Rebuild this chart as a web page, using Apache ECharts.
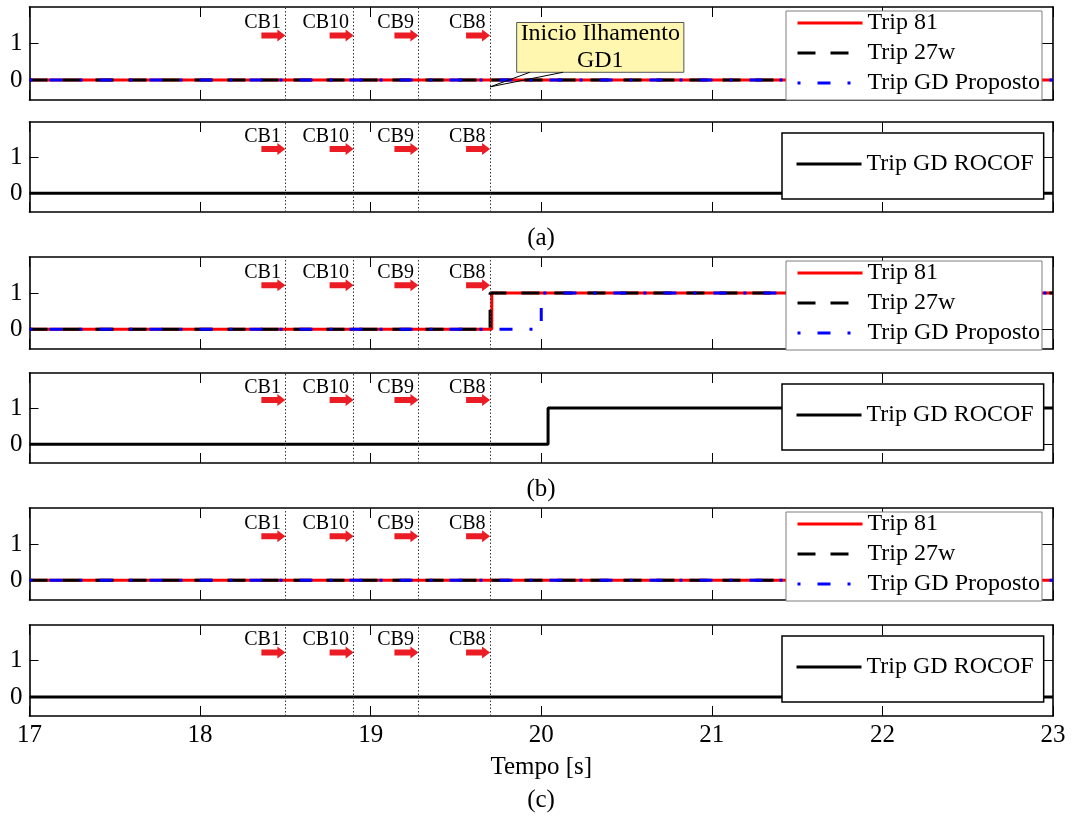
<!DOCTYPE html>
<html><head><meta charset="utf-8">
<script src="https://cdn.jsdelivr.net/npm/echarts@6/dist/echarts.min.js"></script>
<style>html,body{margin:0;padding:0;background:#fff}#c{width:1075px;height:817px}</style>
</head><body><div id="c"></div>
<script>
// ---------------- data ----------------
const xMin = 17, xMax = 23, xStep = 1;
const yTicks = [0, 1];
const cbNames = ['CB1', 'CB10', 'CB9', 'CB8'];
const cbTimes = [18.5, 18.9, 19.28, 19.7];
const arrowLevel = 1.22;
const cbLabelLevel = 1.57;

const trip81_a  = [[17, 0], [23, 0]];
const trip27w_a = [[17, 0], [23, 0]];
const tripGD_a  = [[17, 0], [23, 0]];
const rocof_a   = [[17, 0], [23, 0]];

const trip81_b  = [[17, 0], [19.71, 0], [19.71, 1], [23, 1]];
const trip27w_b = [[17, 0], [19.70, 0], [19.70, 1], [23, 1]];
const tripGD_b  = [[17, 0], [20.00, 0], [20.00, 1], [23, 1]];
const rocof_b   = [[17, 0], [20.04, 0], [20.04, 1], [23, 1]];

const trip81_c  = [[17, 0], [23, 0]];
const trip27w_c = [[17, 0], [23, 0]];
const tripGD_c  = [[17, 0], [23, 0]];
const rocof_c   = [[17, 0], [23, 0]];

const tripNames = ['Trip 81', 'Trip 27w', 'Trip GD Proposto'];
const rocofName = 'Trip GD ROCOF';
const panelLabels = ['(a)', '(b)', '(c)'];
const xAxisTitle = 'Tempo [s]';
const annotText = 'Inicio Ilhamento\nGD1';
const annotBox = [[19.856, 1.575], [20.836, 0.21]];
const annotTip = [19.70, -0.19];
const annotBase = [[19.933, 0.21], [20.127, 0.21]];

// ---------------- layout / style ----------------
const FONT = '"Liberation Serif", "Times New Roman", serif';
const tripSets = [[trip81_a, trip27w_a, tripGD_a], [trip81_b, trip27w_b, tripGD_b], [trip81_c, trip27w_c, tripGD_c]];
const rocofSets = [rocof_a, rocof_b, rocof_c];
const panelTop = [7, 122, 257, 373, 508, 625];
const panelH = [93, 90, 92, 90, 92, 91];
const yRange = [[-0.55, 2.0], [-0.52, 1.97], [-0.55, 2.0], [-0.52, 1.97], [-0.55, 2.0], [-0.52, 1.97]];
const tripStyles = [
  { color: '#ff0000', type: 'solid' },
  { color: '#000000', type: [18, 15] },
  { color: '#0000ff', type: [3, 17, 13, 17] }
];
const arrowPath = 'path://M0,3 L16,3 L16,0 L24,6 L16,12 L16,9 L0,9 Z';

const grids = [], xAxes = [], yAxes = [], series = [], legends = [];
for (let i = 0; i < 6; i++) {
  const g = Math.floor(i / 2), kind = i % 2;
  grids.push({ left: 29.5, right: 22, top: panelTop[i], height: panelH[i] });
  const axLine = { show: true, onZero: false, lineStyle: { color: '#000', width: 1.6 } };
  const last = i === 5;
  xAxes.push({
    type: 'value', gridIndex: i, min: xMin, max: xMax, interval: xStep, position: 'bottom',
    axisLine: axLine, splitLine: { show: false },
    axisTick: { show: true, inside: true, length: 10, lineStyle: { color: '#000', width: 1 } },
    axisLabel: { show: last, fontFamily: FONT, fontSize: 25, color: '#000', margin: 7 },
    name: last ? xAxisTitle : '', nameLocation: 'middle', nameGap: 39,
    nameTextStyle: { fontFamily: FONT, fontSize: 25, color: '#000' }
  });
  xAxes.push({
    type: 'value', gridIndex: i, min: xMin, max: xMax, interval: xStep, position: 'top',
    axisLine: axLine, splitLine: { show: false },
    axisTick: { show: true, inside: true, length: 10, lineStyle: { color: '#000', width: 1 } },
    axisLabel: { show: false }
  });
  yAxes.push({
    type: 'value', gridIndex: i, min: yRange[i][0], max: yRange[i][1], position: 'left',
    axisLine: axLine, splitLine: { show: false },
    axisTick: { show: true, inside: true, length: 9, customValues: yTicks, lineStyle: { color: '#000', width: 1 } },
    axisLabel: { show: true, customValues: yTicks, fontFamily: FONT, fontSize: 25, color: '#000', margin: 7 }
  });
  yAxes.push({
    type: 'value', gridIndex: i, min: yRange[i][0], max: yRange[i][1], position: 'right',
    axisLine: axLine, splitLine: { show: false },
    axisTick: { show: true, inside: true, length: 11, customValues: yTicks, lineStyle: { color: '#000', width: 1 } },
    axisLabel: { show: false }
  });
  const xi = 2 * i, yi = 2 * i;
  if (kind === 0) {
    tripNames.forEach((nm, k) => {
      series.push({
        type: 'line', name: nm, xAxisIndex: xi, yAxisIndex: yi, data: tripSets[g][k],
        symbol: 'none', animation: false, z: 2,
        itemStyle: { color: tripStyles[k].color },
        lineStyle: { color: tripStyles[k].color, width: 3, type: tripStyles[k].type, cap: 'butt' }
      });
    });
    legends.push({
      data: tripNames, orient: 'vertical', left: 786, top: panelTop[i] + 4,
      itemWidth: 65, itemHeight: 20, itemGap: 6, padding: [0, 2, 5, 10],
      backgroundColor: '#fff', borderColor: '#7f7f7f', borderWidth: 1, borderRadius: 0,
      selectedMode: false, lineStyle: { width: 3 }, itemStyle: { opacity: 0 },
      textStyle: { fontFamily: FONT, fontSize: 24, color: '#000' }
    });
  } else {
    series.push({
      type: 'line', name: rocofName, xAxisIndex: xi, yAxisIndex: yi, data: rocofSets[g],
      symbol: 'none', animation: false, z: 2,
      itemStyle: { color: '#000' }, lineStyle: { color: '#000', width: 3 }
    });
    legends.push({
      data: [rocofName], orient: 'vertical', left: 782, top: panelTop[i] + 11,
      itemWidth: 65, itemHeight: 20, padding: [19, 10, 23, 13],
      backgroundColor: '#fff', borderColor: '#000', borderWidth: 1.5, borderRadius: 0,
      selectedMode: false, lineStyle: { width: 3 }, itemStyle: { opacity: 0 },
      textStyle: { fontFamily: FONT, fontSize: 24, color: '#000' }
    });
  }
  // CB arrows + dotted vertical lines
  series.push({
    type: 'scatter', name: 'cb-arrows', xAxisIndex: xi, yAxisIndex: yi, animation: false, silent: true, z: 3,
    data: cbTimes.map(t => [t, arrowLevel]),
    symbol: arrowPath, symbolSize: [24, 12], symbolOffset: [-12, 0],
    itemStyle: { color: '#ec1c24', opacity: 1 },
    markLine: {
      silent: true, animation: false, symbol: ['none', 'none'], label: { show: false },
      lineStyle: { color: '#333', width: 1, type: [1.5, 2] },
      data: cbTimes.map(t => ({ xAxis: t }))
    }
  });
  // CB text labels
  series.push({
    type: 'scatter', name: 'cb-labels', xAxisIndex: xi, yAxisIndex: yi, animation: false, silent: true, z: 3,
    data: cbTimes.map((t, k) => ({ name: cbNames[k], value: [t, cbLabelLevel] })),
    symbol: 'circle', symbolSize: 1, itemStyle: { color: 'rgba(0,0,0,0)', opacity: 1 },
    labelLayout: { hideOverlap: false },
    label: { show: true, position: 'left', distance: 4, formatter: p => p.name,
      fontFamily: FONT, fontSize: 20, color: '#000', opacity: 1 }
  });
}
// annotation in panel (a) top
series.push({
  type: 'scatter', name: 'annot', xAxisIndex: 0, yAxisIndex: 0, animation: false, silent: true, z: 3,
  data: [annotTip], symbolSize: 1, itemStyle: { color: 'rgba(0,0,0,0)' },
  markArea: {
    silent: true, animation: false,
    itemStyle: { color: '#fff7b0', borderColor: '#555', borderWidth: 1, opacity: 1 },
    label: { show: true, position: 'inside', formatter: annotText, fontFamily: FONT, fontSize: 24, lineHeight: 26.5, color: '#000' },
    data: [[{ coord: annotBox[0] }, { coord: annotBox[1] }]]
  },
  markLine: {
    silent: true, animation: false, symbol: ['none', 'none'], label: { show: false },
    lineStyle: { color: '#000', width: 1, type: 'solid' },
    data: annotBase.map(b => [{ coord: annotTip }, { coord: b }])
  }
});

const graphics = panelLabels.map((t, k) => ({
  type: 'text', x: 541, y: [238, 489, 800][k],
  style: { text: t, font: '25px ' + FONT, fill: '#000', align: 'center', verticalAlign: 'middle' }
}));

const chart = echarts.init(document.getElementById('c'), null, { renderer: 'canvas' });
chart.setOption({
  backgroundColor: '#fff', animation: false,
  grid: grids, xAxis: xAxes, yAxis: yAxes, series: series, legend: legends, graphic: graphics
});
</script></body></html>
